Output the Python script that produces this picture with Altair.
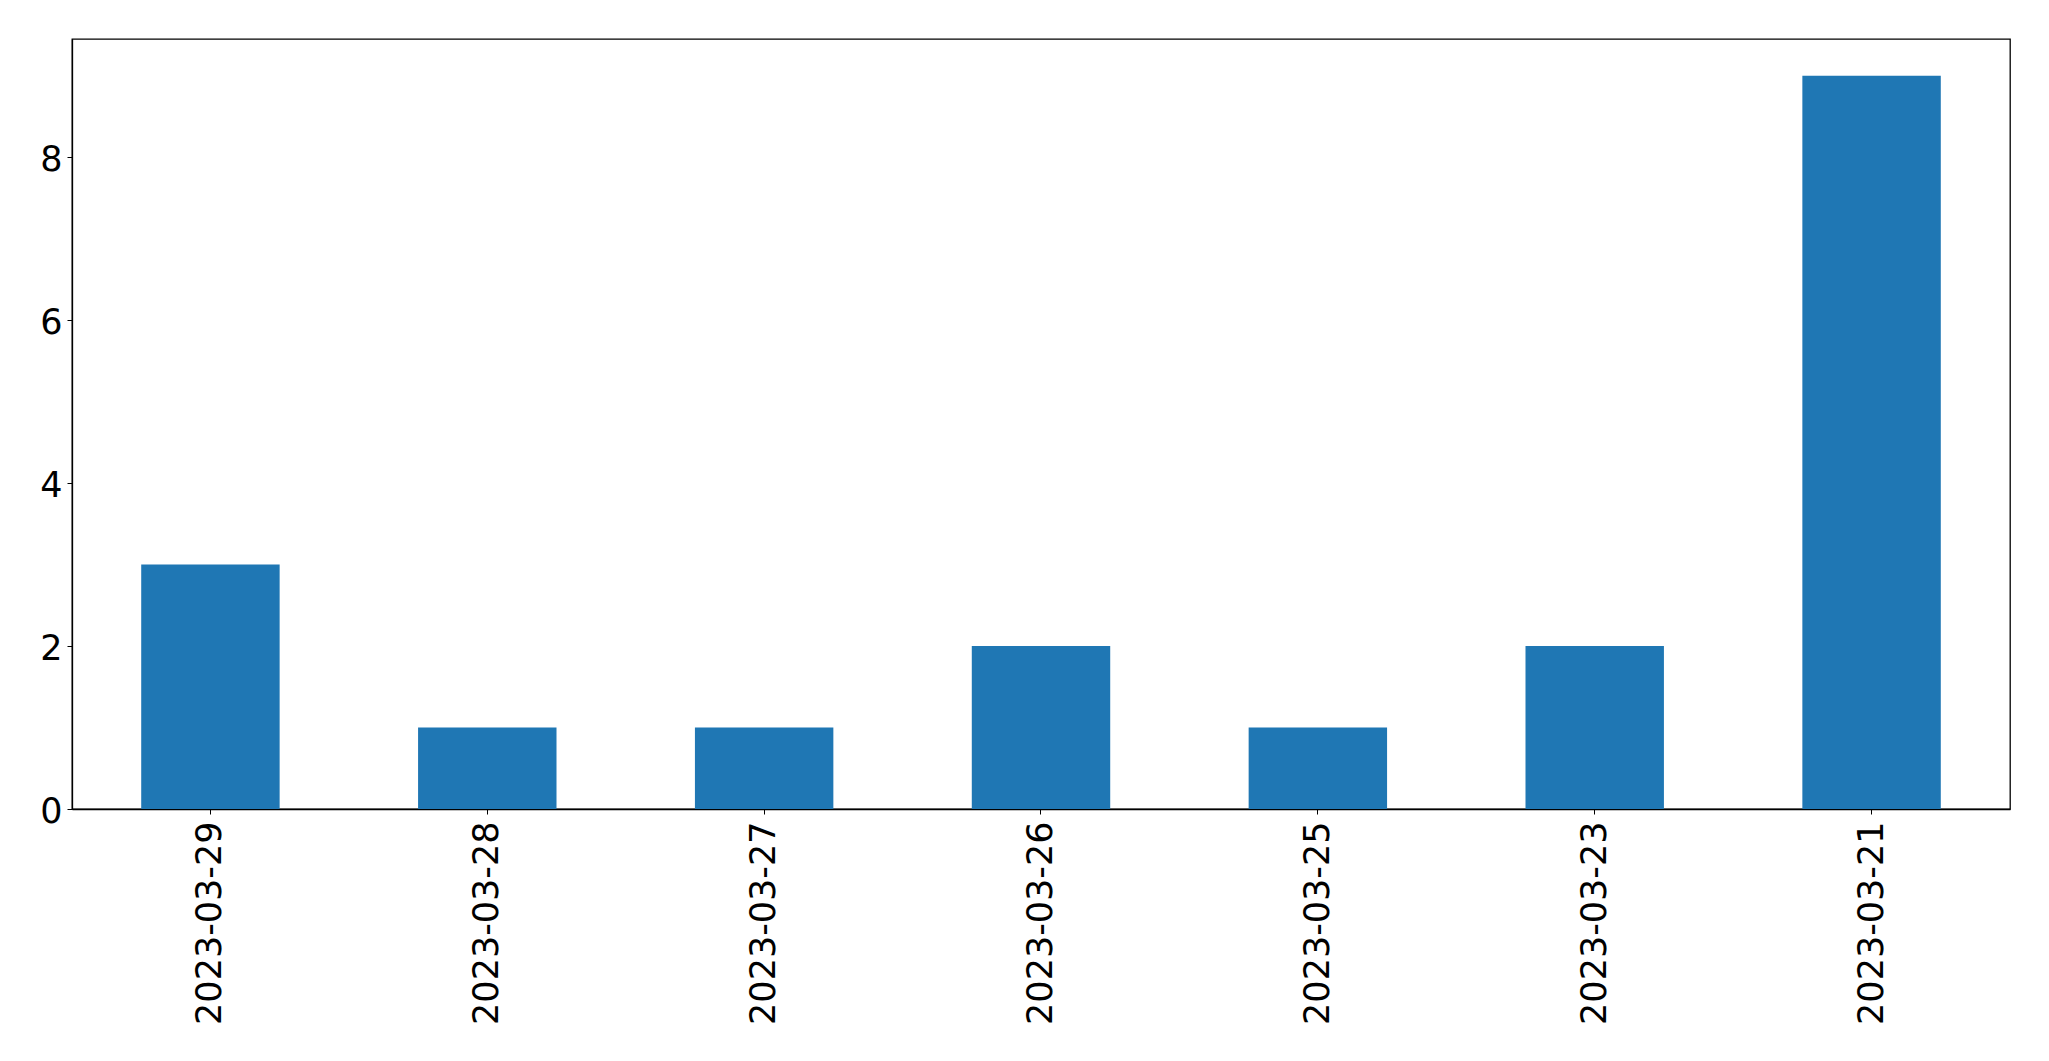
import altair as alt
import pandas as pd

dates = ["2023-03-29", "2023-03-28", "2023-03-27", "2023-03-26", "2023-03-25", "2023-03-23", "2023-03-21"]
counts = [3, 1, 1, 2, 1, 2, 9]
y_ticks = [0, 2, 4, 6, 8]

df = pd.DataFrame({"date": dates, "count": counts})

FONT = "DejaVu Sans"

chart = alt.Chart(df).mark_bar(color="#1f77b4").encode(
    x=alt.X("date:N", sort=None, title=None,
            scale=alt.Scale(paddingInner=0.5, paddingOuter=0.25),
            axis=alt.Axis(labelAngle=270, labelAlign="right", labelBaseline="middle",
                          labelFontSize=35, labelFont=FONT, labelColor="black", labelLimit=0,
                          tickColor="black", tickSize=5, labelPadding=7,
                          domainColor="black", domainWidth=1.3)),
    y=alt.Y("count:Q", title=None,
            scale=alt.Scale(domain=[0, 9.45], nice=False, zero=True),
            axis=alt.Axis(values=y_ticks, grid=False, labelFontSize=35, labelFont=FONT,
                          labelColor="black", tickColor="black", tickSize=5, labelPadding=5,
                          labelOffset=2,
                          domainColor="black", domainWidth=1.3)),
).properties(
    width=1938,
    height=770,
    background="white",
    autosize=alt.AutoSizeParams(type="none"),
    padding={"left": 64, "top": 31, "right": 30, "bottom": 244},
).configure(font=FONT).configure_view(
    stroke="black", strokeWidth=1.3
)

chart.save("out.html", embed_options={"renderer": "svg", "actions": False})
